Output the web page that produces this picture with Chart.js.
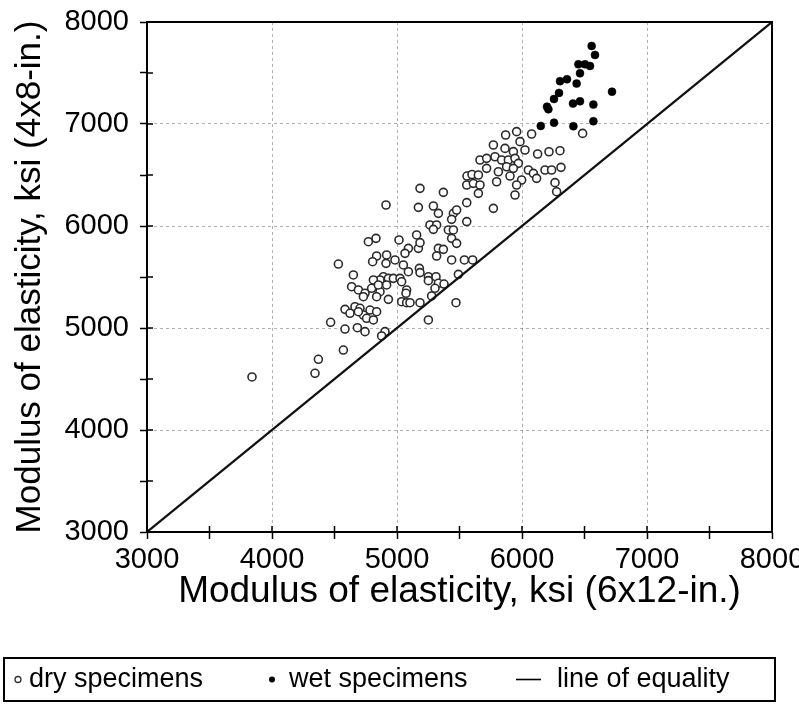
<!DOCTYPE html>
<html>
<head>
<meta charset="utf-8">
<script src="https://cdn.jsdelivr.net/npm/chart.js@4.4.1/dist/chart.umd.min.js"></script>
<style>
  html, body { margin: 0; padding: 0; background: #fff; }
</style>
</head>
<body>
<canvas id="chart" width="799" height="706"></canvas>
<script>
// dry specimens (open circles): 6x12-in. modulus vs 4x8-in. modulus, ksi
const dryX = [
  3840, 4344, 4371, 4571, 4469, 4584, 4683, 4744, 4904, 4877,
  4584, 4664, 4704, 4784, 4731, 4691, 4624, 4757, 4811, 4837, 5251,
  4637, 4691, 4744, 4797, 4864, 4731, 4837, 4931, 5077, 5072,
  5037, 5077, 5104, 5184, 5277, 5472,
  4651, 4531, 5091, 5179, 5184, 5251, 5312, 5251, 5331, 5376, 5304, 5491,
  4891, 4864, 4931, 4971, 5024, 4811, 4917, 4851, 5037,
  4917, 4837, 4805, 4912, 4984, 5051,
  5091, 5064, 5171, 5331, 5371, 5317, 5437, 5539, 5605,
  5437, 5477, 5157, 5184, 5016, 4771, 4832,
  5264, 5317, 5291, 5411, 5451,
  4912, 5171, 5291, 5331, 5451, 5477, 5437, 5558,
  5184, 5371, 5558, 5611, 5558, 5560, 5600,
  5869, 5957, 6077, 6485, 5771, 5864, 5984, 6024, 5931, 6125, 6304,
  5664, 5717, 5784, 5837, 5891, 5944, 5971, 5877, 5931, 5717,
  6051, 6091, 6117, 6184, 6237, 6312, 5997, 5904, 5811, 5797,
  5651, 5664, 5651, 5957, 6264, 6277, 5944, 5771, 6216
];
const dryY = [
  4520, 4556, 4693, 4784, 5056, 4990, 5003, 4964, 4964, 4922,
  5183, 5209, 5193, 5176, 5127, 5160, 5144, 5095, 5079, 5160, 5079,
  5405, 5373, 5340, 5389, 5356, 5307, 5307, 5281, 5373, 5340,
  5258, 5248, 5248, 5248, 5314, 5248,
  5520, 5627, 5552, 5585, 5543, 5503, 5503, 5464, 5438, 5431, 5389, 5526,
  5503, 5471, 5487, 5487, 5487, 5471, 5422, 5422, 5454,
  5716, 5706, 5650, 5634, 5667, 5618,
  5781, 5732, 5781, 5781, 5771, 5706, 5667, 5667, 5667,
  5879, 5830, 5912, 5837, 5863, 5846, 5879,
  6010, 6010, 5967, 5961, 5961,
  6206, 6183, 6196, 6124, 6124, 6157, 6065, 6043,
  6369, 6330, 6402, 6418, 6229, 6490, 6505,
  6892, 6925, 6902, 6908, 6794, 6761, 6827, 6745, 6729, 6706, 6738,
  6647, 6663, 6679, 6647, 6647, 6663, 6614, 6581, 6565, 6565,
  6549, 6516, 6467, 6549, 6549, 6575, 6451, 6490, 6532, 6434,
  6500, 6402, 6320, 6402, 6425, 6336, 6304, 6173, 6728
];

// wet specimens (filled dots)
const wetX = [
  6557, 6584, 6451, 6504, 6544, 6464, 6304, 6360, 6437, 6296, 6256,
  6720, 6200, 6211, 6408, 6464, 6571, 6150, 6256, 6411, 6571
];
const wetY = [
  7765, 7677, 7585, 7585, 7569, 7497, 7420, 7438, 7396, 7305, 7245,
  7317, 7170, 7144, 7200, 7222, 7190, 6981, 7013, 6978, 7027
];

// line of equality end points
const equalityX = [3000, 8000];
const equalityY = [3000, 8000];

const axisMin = 3000;
const axisMax = 8000;
const tickStep = 500;
const labelStep = 1000;

const xTitle = 'Modulus of elasticity, ksi (6x12-in.)';
const yTitle = 'Modulus of elasticity, ksi (4x8-in.)';
const seriesLabels = ['dry specimens', 'wet specimens', 'line of equality'];

const FONT = 'Arial, "Liberation Sans", Helvetica, sans-serif';
Chart.defaults.font.family = FONT;
Chart.defaults.color = '#000';

const toPoints = (xs, ys) => xs.map((x, i) => ({ x, y: ys[i] }));

const gridColor = (ctx) => {
  const v = ctx.tick ? ctx.tick.value : null;
  if (v === null || v % labelStep !== 0 || v === axisMin || v === axisMax) return 'rgba(0,0,0,0)';
  return 'rgba(0,0,0,0.3)';
};

const tickLabel = (v) => (v % labelStep === 0 ? String(v) : '');

// frame on top/right + inward tick marks like the printed figure
const framePlugin = {
  id: 'frame',
  afterDatasetsDraw(chart) {
    const { ctx, chartArea: a, scales } = chart;
    ctx.save();
    ctx.strokeStyle = '#000';
    ctx.lineWidth = 2;
    ctx.beginPath();
    ctx.moveTo(a.left, a.top);
    ctx.lineTo(a.right, a.top);
    ctx.lineTo(a.right, a.bottom);
    ctx.stroke();
    ctx.lineWidth = 1.5;
    ctx.beginPath();
    scales.x.ticks.forEach(t => {
      const px = scales.x.getPixelForValue(t.value);
      ctx.moveTo(px, a.bottom);
      ctx.lineTo(px, a.bottom - 6);
    });
    scales.y.ticks.forEach(t => {
      const py = scales.y.getPixelForValue(t.value);
      ctx.moveTo(a.left, py);
      ctx.lineTo(a.left + 6, py);
    });
    ctx.stroke();
    ctx.restore();
  }
};

// boxed legend below the axis title
const legendBoxPlugin = {
  id: 'legendBox',
  afterDraw(chart) {
    const { ctx } = chart;
    const top = 658, bottom = 701, left = 4, right = 775;
    const cy = (top + bottom) / 2;
    ctx.save();
    ctx.strokeStyle = '#000';
    ctx.lineWidth = 2;
    ctx.strokeRect(left, top, right - left, bottom - top);

    ctx.font = '27px ' + FONT;
    ctx.fillStyle = '#000';
    ctx.textBaseline = 'middle';

    // dry
    ctx.lineWidth = 1.3;
    ctx.strokeStyle = '#333';
    ctx.fillStyle = '#fff';
    ctx.beginPath();
    ctx.arc(18, cy, 3, 0, Math.PI * 2);
    ctx.fill();
    ctx.stroke();
    ctx.fillStyle = '#000';
    ctx.fillText(seriesLabels[0], 29, cy);

    // wet
    ctx.beginPath();
    ctx.arc(272, cy, 3, 0, Math.PI * 2);
    ctx.fill();
    ctx.fillText(seriesLabels[1], 289, cy);

    // line
    ctx.strokeStyle = '#000';
    ctx.lineWidth = 1.6;
    ctx.beginPath();
    ctx.moveTo(516, cy);
    ctx.lineTo(541, cy);
    ctx.stroke();
    ctx.fillText(seriesLabels[2], 557, cy);
    ctx.restore();
  }
};

new Chart(document.getElementById('chart'), {
  type: 'scatter',
  data: {
    datasets: [
      {
        type: 'line',
        label: seriesLabels[2],
        data: toPoints(equalityX, equalityY),
        borderColor: '#111',
        borderWidth: 2.2,
        pointRadius: 0,
        fill: false,
      },
      {
        label: seriesLabels[0],
        data: toPoints(dryX, dryY),
        pointStyle: 'circle',
        pointRadius: 4,
        pointBorderWidth: 1.6,
        borderColor: '#2a2a2a',
        backgroundColor: '#fff',
      },
      {
        label: seriesLabels[1],
        data: toPoints(wetX, wetY),
        pointStyle: 'circle',
        pointRadius: 4,
        pointBorderWidth: 0.5,
        borderColor: '#000',
        backgroundColor: '#000',
      },
    ],
  },
  options: {
    responsive: false,
    animation: false,
    layout: { padding: { top: 22, right: 27, left: 0, bottom: 50 } },
    plugins: {
      legend: { display: false },
      tooltip: { enabled: false },
    },
    scales: {
      x: {
        type: 'linear',
        min: axisMin,
        max: axisMax,
        afterFit: (s) => { s.height = 124; s.paddingLeft = 0; s.paddingRight = 0; },
        ticks: {
          stepSize: tickStep,
          autoSkip: false,
          maxRotation: 0,
          color: '#000',
          padding: 4,
          font: { size: 29 },
          callback: tickLabel,
        },
        grid: { color: gridColor, tickColor: '#000', tickLength: 7, tickWidth: 1.5, lineWidth: 1 },
        border: { color: '#000', width: 2, dash: [3, 3] },
        title: { display: true, text: xTitle, color: '#000', font: { size: 37 }, padding: { top: 0, bottom: 42 } },
      },
      y: {
        type: 'linear',
        min: axisMin,
        max: axisMax,
        afterFit: (s) => { s.width = 147; s.paddingTop = 0; s.paddingBottom = 0; },
        ticks: {
          stepSize: tickStep,
          autoSkip: false,
          color: '#000',
          padding: 11,
          font: { size: 29 },
          callback: tickLabel,
        },
        grid: { color: gridColor, tickColor: '#000', tickLength: 7, tickWidth: 1.5, lineWidth: 1 },
        border: { color: '#000', width: 2, dash: [3, 3] },
        title: { display: true, text: yTitle, color: '#000', font: { size: 35 }, padding: { top: 9, bottom: 0 } },
      },
    },
  },
  plugins: [framePlugin, legendBoxPlugin],
});
</script>
</body>
</html>
